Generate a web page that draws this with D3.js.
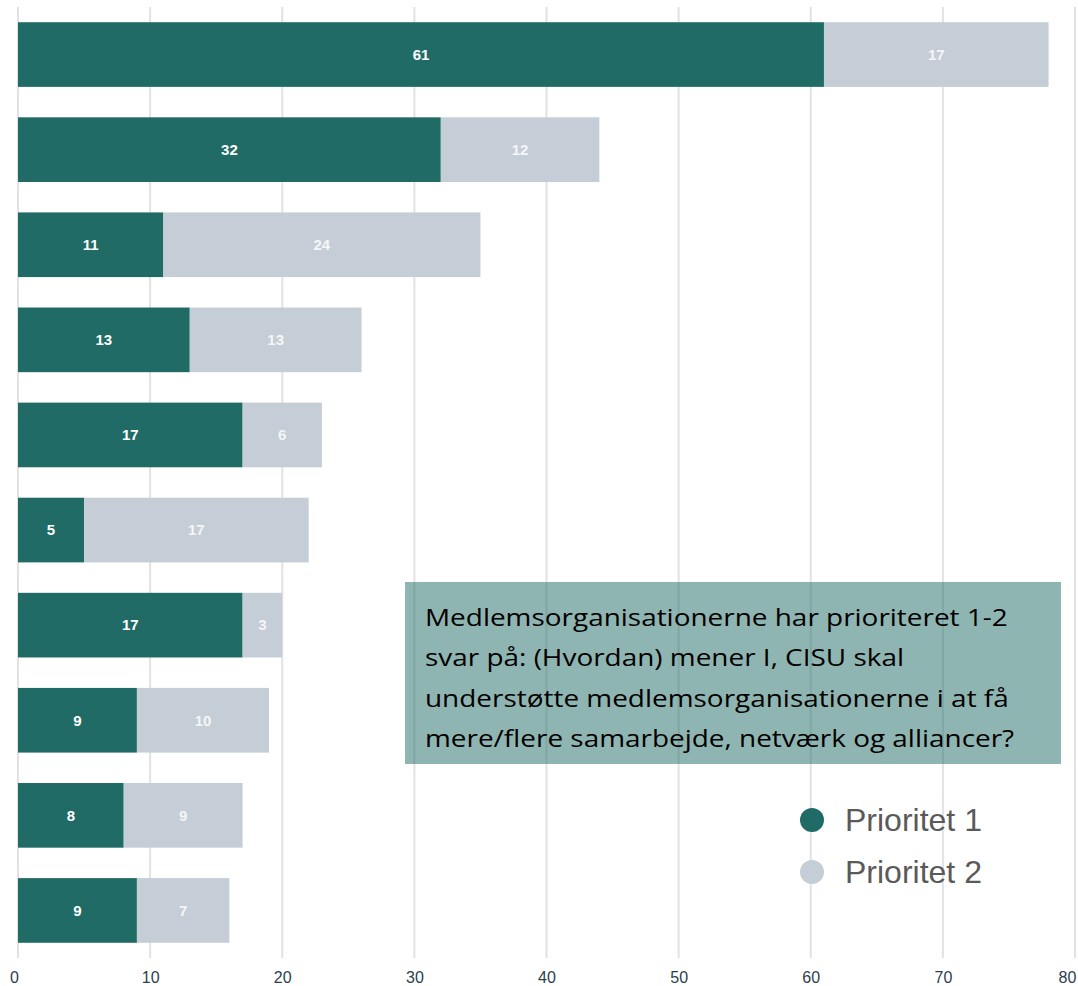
<!DOCTYPE html>
<html>
<head>
<meta charset="utf-8">
<script src="https://cdn.jsdelivr.net/npm/d3@7"></script>
<style>
  body { margin: 0; background: #fff; }
  svg { display: block; }
</style>
</head>
<body>
<svg id="chart" width="1078" height="986"></svg>
<script>
// data (category names are cut off in the source)
const categories = ["A", "B", "C", "D", "E", "F", "G", "H", "I", "J"];
const prioritet1 = [61, 32, 11, 13, 17, 5, 17, 9, 8, 9];
const prioritet2 = [17, 12, 24, 13, 6, 17, 3, 10, 9, 7];
const xTicks = [0, 10, 20, 30, 40, 50, 60, 70, 80];
const seriesNames = ["Prioritet 1", "Prioritet 2"];
const noteLines = [
  "Medlemsorganisationerne har prioriteret 1-2",
  "svar på: (Hvordan) mener I, CISU skal",
  "understøtte medlemsorganisationerne i at få",
  "mere/flere samarbejde, netværk og alliancer?"
];

const colors = ["#206b66", "#c5ced6"];

const svg = d3.select("#chart");

const x = d3.scaleLinear().domain([0, 80]).range([18, 1075]);
const y = d3.scaleBand().domain(categories).range([7, 958])
  .paddingInner(0.32).paddingOuter(0.16);

// gridlines
svg.append("g")
  .selectAll("line")
  .data(xTicks)
  .join("line")
  .attr("x1", d => x(d)).attr("x2", d => x(d))
  .attr("y1", 7).attr("y2", 958)
  .attr("stroke", "#e2e2e2")
  .attr("stroke-width", 2);

// axis labels
const axis = svg.append("g")
  .attr("transform", "translate(0,958)")
  .call(d3.axisBottom(x).tickValues(xTicks).tickSize(0).tickPadding(14));
axis.select(".domain").remove();
axis.selectAll("text")
  .attr("font-family", "Liberation Sans, Arial, sans-serif")
  .attr("font-size", 16)
  .attr("fill", "#2d3e4e");
// keep the end labels inside the picture
axis.selectAll(".tick text")
  .attr("x", d => d === 0 ? -4 : d === 80 ? -8 : 0);

// stacked bars
const rows = categories.map((c, i) => ({ cat: c, v: [prioritet1[i], prioritet2[i]] }));
const stack = d3.stack().keys([0, 1]).value((d, k) => d.v[k]);
const layers = stack(rows);

layers.forEach((layer, k) => {
  const g = svg.append("g");
  g.selectAll("rect")
    .data(layer)
    .join("rect")
    .attr("x", d => x(d[0]))
    .attr("y", d => y(d.data.cat))
    .attr("width", d => x(d[1]) - x(d[0]))
    .attr("height", y.bandwidth())
    .attr("fill", colors[k]);
  g.selectAll("text")
    .data(layer)
    .join("text")
    .attr("x", d => (x(d[0]) + x(d[1])) / 2)
    .attr("y", d => y(d.data.cat) + y.bandwidth() / 2)
    .attr("dy", "0.35em")
    .attr("text-anchor", "middle")
    .attr("font-family", "Liberation Sans, Arial, sans-serif")
    .attr("font-weight", "bold")
    .attr("font-size", 15)
    .attr("fill", k === 0 ? "#ffffff" : "#f4f6f8")
    .text(d => d[1] - d[0]);
});

// note box
svg.append("rect")
  .attr("x", 405).attr("y", 582)
  .attr("width", 656).attr("height", 182)
  .attr("fill", colors[0])
  .attr("opacity", 0.5);

const note = svg.append("g");
note.selectAll("text")
  .data(noteLines)
  .join("text")
  .attr("x", 425)
  .attr("y", (d, i) => 626 + i * 40.5)
  .attr("font-family", "Open Sans, Noto Sans, sans-serif")
  .attr("font-size", 24)
  .attr("fill", "#000")
  .text(d => d);
// squeeze to the width seen in the picture
const firstW = note.select("text").node().getComputedTextLength();
const k = 583 / firstW;
note.attr("transform", `translate(425,0) scale(${k},1) translate(-425,0)`);

// legend
const legend = svg.append("g");
seriesNames.forEach((name, i) => {
  const ly = 820 + i * 52;
  legend.append("circle")
    .attr("cx", 812).attr("cy", ly).attr("r", 12)
    .attr("fill", colors[i]);
  legend.append("text")
    .attr("x", 845).attr("y", ly)
    .attr("dy", "0.35em")
    .attr("font-family", "Liberation Sans, Arial, sans-serif")
    .attr("font-size", 32)
    .attr("fill", "#5a5a5a")
    .text(name);
});
</script>
</body>
</html>
